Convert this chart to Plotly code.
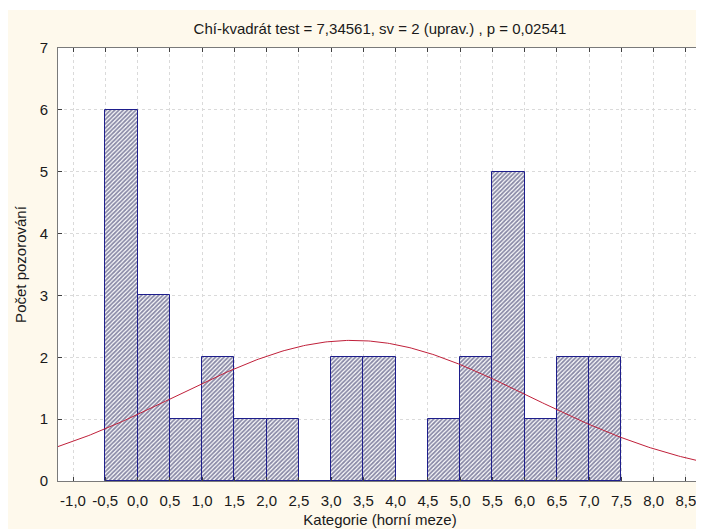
import numpy as np
import plotly.graph_objects as go

# Histogram data (upper bounds of bins, width 0.5)
upper_bounds = [0.0, 0.5, 1.0, 1.5, 2.0, 2.5, 3.0, 3.5, 4.0, 4.5, 5.0, 5.5, 6.0, 6.5, 7.0, 7.5]
counts = [6, 3, 1, 2, 1, 1, 0, 2, 2, 0, 1, 2, 5, 1, 2, 2]
bin_width = 0.5

# Fitted normal curve parameters
fit_mean = 3.33
fit_sd = 2.72

x_tick_vals = [-1.0, -0.5, 0.0, 0.5, 1.0, 1.5, 2.0, 2.5, 3.0, 3.5, 4.0, 4.5,
               5.0, 5.5, 6.0, 6.5, 7.0, 7.5, 8.0, 8.5]
x_tick_text = ["-1,0", "-0,5", "0,0", "0,5", "1,0", "1,5", "2,0", "2,5", "3,0", "3,5",
               "4,0", "4,5", "5,0", "5,5", "6,0", "6,5", "7,0", "7,5", "8,0", "8,5"]
y_tick_vals = [0, 1, 2, 3, 4, 5, 6, 7]

title_text = "Chí-kvadrát test = 7,34561, sv = 2 (uprav.) , p = 0,02541"
x_title = "Kategorie (horní meze)"
y_title = "Počet pozorování"

x_range = [-1.233, 8.75]
y_range = [0, 7]

centers = [u - bin_width / 2 for u in upper_bounds]
n_total = sum(counts)
xc = np.linspace(x_range[0], x_range[1], 300)
yc = n_total * bin_width / (fit_sd * np.sqrt(2 * np.pi)) * np.exp(-0.5 * ((xc - fit_mean) / fit_sd) ** 2)

FONT = "Liberation Sans, Arial, sans-serif"
TXT = "#1a1a1a"

W, H = 696, 521
ML, MR, MT, MB = 50, 2, 40, 48
PH = H - MT - MB

fig = go.Figure()
fig.add_trace(go.Bar(
    x=centers, y=counts, width=bin_width,
    marker=dict(
        color="white",
        line=dict(color="#1E1E8C", width=1),
        pattern=dict(shape="/", fgcolor="#14144E", bgcolor="white", size=3, solidity=0.6),
    ),
    showlegend=False,
))
fig.add_trace(go.Scatter(
    x=xc, y=yc, mode="lines",
    line=dict(color="#C0203A", width=1),
    showlegend=False,
))

axis_common = dict(
    showline=True, linecolor="#7A7A7A", linewidth=1, mirror="allticks",
    ticks="inside", ticklen=4, tickcolor="#404040",
    showgrid=True, gridcolor="#DADADA", griddash="dot", gridwidth=1,
    zeroline=False, automargin=False, ticklabelstandoff=6,
    tickfont=dict(family=FONT, size=15, color=TXT),
)

fig.update_xaxes(range=x_range, tickvals=x_tick_vals, ticktext=x_tick_text,
                 title=dict(text=x_title, font=dict(family=FONT, size=15, color=TXT), standoff=6),
                 **axis_common)
fig.update_yaxes(range=y_range, tickvals=y_tick_vals,
                 title=dict(text=y_title, font=dict(family=FONT, size=15, color=TXT), standoff=9),
                 **axis_common)

fig.update_layout(
    width=W, height=H,
    margin=dict(l=ML, r=MR, t=MT, b=MB),
    paper_bgcolor="#FEF9EC",
    plot_bgcolor="white",
    bargap=0,
    font=dict(family=FONT, size=15, color=TXT),
    title=dict(text=title_text, x=0.5, xanchor="center", y=1 - 21 / H, yanchor="middle",
               xref="paper", font=dict(family=FONT, size=15, color=TXT)),
    shapes=[
        dict(type="rect", xref="paper", yref="paper", x0=-0.2, x1=1.1,
             y0=(PH + MT - 2) / PH, y1=1.3, fillcolor="white", line=dict(width=0), layer="below"),
    ],
)

fig.write_html("out.html")
